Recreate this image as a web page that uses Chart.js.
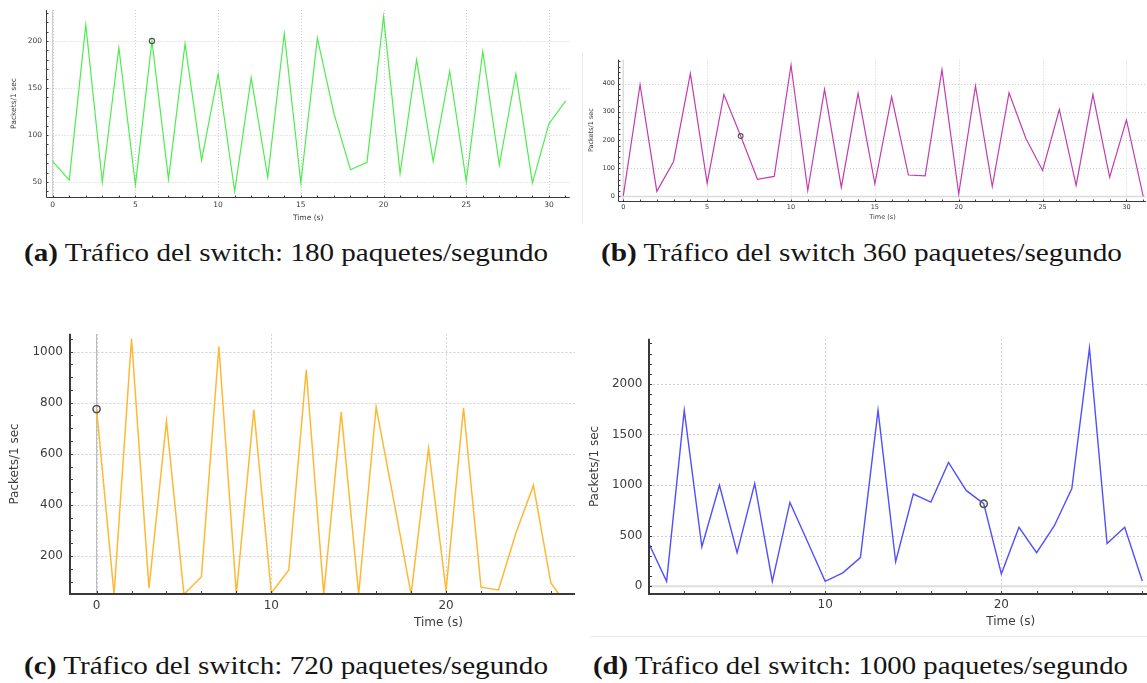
<!DOCTYPE html>
<html>
<head>
<meta charset="utf-8">
<script src="https://cdn.jsdelivr.net/npm/chart.js@4.4.1/dist/chart.umd.min.js"></script>
<style>
  html, body { margin: 0; padding: 0; background: #fff; width: 1147px; height: 683px; overflow: hidden; }
  .panel { position: absolute; overflow: hidden; }
  .panel canvas { position: absolute; }
  .rule { position: absolute; background: #e8e8e8; }
  .cap { position: absolute; font-family: "Liberation Serif", "Times New Roman", Times, serif; font-size: 25px;
         font-weight: normal; color: #151515; white-space: nowrap; line-height: 1.2; transform-origin: 0 50%; }
  .cap b { font-weight: bold; }
</style>
</head>
<body>
<div class="panel" id="boxA"><canvas id="chartA"></canvas></div>
<div class="panel" id="boxB"><canvas id="chartB"></canvas></div>
<div class="panel" id="boxC"><canvas id="chartC"></canvas></div>
<div class="panel" id="boxD"><canvas id="chartD"></canvas></div>
<div class="rule" style="left:582px;top:53px;width:1px;height:170px;"></div>
<div class="rule" style="left:590px;top:636px;width:557px;height:1px;"></div>

<div class="cap" id="capA"><b>(a)</b> Tráfico del switch: 180 paquetes/segundo</div>
<div class="cap" id="capB"><b>(b)</b> Tráfico del switch 360 paquetes/segundo</div>
<div class="cap" id="capC"><b>(c)</b> Tráfico del switch: 720 paquetes/segundo</div>
<div class="cap" id="capD"><b>(d)</b> Tráfico del switch: 1000 paquetes/segundo</div>

<script>
// ---- Packets per second captured at the switch, one sample per second ----
const secondsA = [0,1,2,3,4,5,6,7,8,9,10,11,12,13,14,15,16,17,18,19,20,21,22,23,24,25,26,27,28,29,30,31];
const packetsA = [72,52,217,50,193,47,200,53,197,73,165,40,161,55,208,49,203,123,63,71,226,59,180,72,168,51,189,68,165,49,112,136];

const secondsB = [0,1,2,3,4,5,6,7,8,9,10,11,12,13,14,15,16,17,18,19,20,21,22,23,24,25,26,27,28,29,30,31];
const packetsB = [2,396,18,124,435,47,361,214,61,71,465,21,379,32,365,45,353,76,73,449,9,391,35,367,206,92,308,39,361,68,271,0];

const secondsC = [0,1,2,3,4,5,6,7,8,9,10,11,12,13,14,15,16,17,18,19,20,21,22,23,24,25,26,27];
const packetsC = [775,50,1051,74,728,50,119,1020,50,773,55,145,929,50,763,50,783,420,50,622,64,780,78,67,290,476,94,0];

const secondsD = [0,1,2,3,4,5,6,7,8,9,10,11,12,13,14,15,16,17,18,19,20,21,22,23,24,25,26,27,28];
const packetsD = [419,48,1739,390,998,332,1014,48,828,440,48,132,283,1739,242,911,831,1224,947,815,122,583,332,596,966,2354,422,583,52];

// Selected sample (cursor) in each graph
const cursorA = 6, cursorB = 7, cursorC = 0, cursorD = 19;

// Axis tick labels
const ticksXA = [0,5,10,15,20,25,30];
const ticksYA = [50,100,150,200];
const ticksXB = [0,5,10,15,20,25,30];
const ticksYB = [0,100,200,300,400];
const ticksXC = [0,10,20,30,40];
const ticksYC = [200,400,600,800,1000];
const ticksXD = [10,20,30,40];
const ticksYD = [0,500,1000,1500,2000];

const xTitle = 'Time (s)';
const yTitle = 'Packets/1 sec';

// ---- Grid, zero lines, axis lines and inward tick marks ----
const framePlugin = {
  id: 'frame',
  beforeDatasetsDraw(chart, args, o) {
    const { ctx, chartArea: a, scales: { x, y } } = chart;
    ctx.save();
    ctx.beginPath();
    ctx.rect(a.left, a.top, a.right - a.left, a.bottom - a.top);
    ctx.clip();
    ctx.strokeStyle = o.gridColor;
    ctx.lineWidth = 1;
    ctx.setLineDash(o.gridDash);
    o.gridX.forEach(v => {
      const p = Math.round(x.getPixelForValue(v)) + 0.5;
      ctx.beginPath(); ctx.moveTo(p, a.top); ctx.lineTo(p, a.bottom); ctx.stroke();
    });
    o.gridY.forEach(v => {
      const p = Math.round(y.getPixelForValue(v)) + 0.5;
      ctx.beginPath(); ctx.moveTo(a.left, p); ctx.lineTo(a.right, p); ctx.stroke();
    });
    ctx.setLineDash([]);
    ctx.strokeStyle = o.zeroColor;
    ctx.lineWidth = o.zeroWidth;
    if (o.zeroX && x.min < 0) {
      const p = x.getPixelForValue(0);
      ctx.beginPath(); ctx.moveTo(p, a.top); ctx.lineTo(p, a.bottom); ctx.stroke();
    }
    if (o.zeroY && y.min < 0) {
      const p = y.getPixelForValue(0);
      ctx.beginPath(); ctx.moveTo(a.left, p); ctx.lineTo(a.right, p); ctx.stroke();
    }
    ctx.restore();
  },
  afterDraw(chart, args, o) {
    const { ctx, chartArea: a, scales: { x, y } } = chart;
    ctx.save();
    ctx.strokeStyle = o.axisColor;
    ctx.lineWidth = o.axisWidth;
    const off = o.axisWidth % 2 ? 0.5 : 0;
    const L = Math.round(a.left) - off, B = Math.round(a.bottom) + off;
    ctx.beginPath();
    ctx.moveTo(L, a.top); ctx.lineTo(L, B); ctx.lineTo(a.right, B);
    ctx.stroke();
    ctx.lineWidth = 1;
    for (let v = Math.ceil(x.min / o.minorX) * o.minorX; v <= x.max; v += o.minorX) {
      const p = Math.round(x.getPixelForValue(v)) + 0.5;
      if (p <= L + 1) continue;
      ctx.beginPath(); ctx.moveTo(p, B); ctx.lineTo(p, B - o.tickLen); ctx.stroke();
    }
    for (let v = Math.ceil(y.min / o.minorY) * o.minorY; v <= y.max; v += o.minorY) {
      const p = Math.round(y.getPixelForValue(v)) + 0.5;
      if (p >= B - 1) continue;
      ctx.beginPath(); ctx.moveTo(L, p); ctx.lineTo(L + o.tickLen, p); ctx.stroke();
    }
    ctx.restore();
  }
};

function place(el, l, t, w, h) {
  el.style.left = l + 'px'; el.style.top = t + 'px';
  if (w != null) { el.style.width = w + 'px'; el.style.height = h + 'px'; }
}

function buildChart(p) {
  const box = document.getElementById(p.box);
  place(box, p.clip.l, p.clip.t, p.clip.w, p.clip.h);
  const cv = document.getElementById(p.canvas);
  cv.width = p.cv.w; cv.height = p.cv.h;
  place(cv, p.cv.l - p.clip.l, p.cv.t - p.clip.t);

  const yWidth = p.plot.l - p.cv.l;
  const xHeight = p.cv.t + p.cv.h - p.plot.b;
  const padTop = p.plot.t - p.cv.t;
  const padRight = p.cv.l + p.cv.w - p.plot.r;
  const font = { family: 'DejaVu Sans', size: p.fontSize };
  const series = p.seconds.map((s, i) => ({ x: s, y: p.packets[i] }));
  const cursor = [{ x: p.seconds[p.cursor], y: p.packets[p.cursor] }];

  return new Chart(cv, {
    type: 'line',
    data: {
      datasets: [
        {
          data: cursor, showLine: false, order: 0,
          pointRadius: p.markR, pointBorderWidth: p.markW,
          pointBorderColor: '#555', pointBackgroundColor: 'rgba(0,0,0,0)'
        },
        {
          data: series, order: 1, borderColor: p.color, borderWidth: p.lineW,
          pointRadius: 0, tension: 0, fill: false
        }
      ]
    },
    options: {
      responsive: false, animation: false, devicePixelRatio: 1,
      layout: { padding: { top: padTop, right: padRight, left: 0, bottom: 0 } },
      plugins: {
        legend: { display: false }, tooltip: { enabled: false },
        frame: {
          gridX: p.ticksX, gridY: p.ticksY, gridColor: '#cfcfcf', gridDash: p.gridDash,
          zeroX: p.zeroX, zeroY: p.zeroY, zeroColor: p.zeroColor, zeroWidth: p.zeroWidth,
          axisColor: '#3a3a3a', axisWidth: p.axisW, tickLen: p.tickLen,
          minorX: p.minorX, minorY: p.minorY
        }
      },
      scales: {
        x: {
          type: 'linear', min: p.xMin, max: p.xMax,
          grid: { display: false, drawTicks: false }, border: { display: false },
          afterBuildTicks: s => { s.ticks = p.ticksX.map(v => ({ value: v })); },
          afterFit: s => { s.height = xHeight; },
          ticks: { autoSkip: false, maxRotation: 0, padding: p.xTickPad, color: '#3c3c3c', font,
                   callback: v => String(v) },
          title: { display: true, text: xTitle, color: '#3c3c3c', font,
                   padding: { top: 0, bottom: p.xTitlePad } }
        },
        y: {
          type: 'linear', min: p.yMin, max: p.yMax,
          grid: { display: false, drawTicks: false }, border: { display: false },
          afterBuildTicks: s => { s.ticks = p.ticksY.map(v => ({ value: v })); },
          afterFit: s => { s.width = yWidth; },
          ticks: { autoSkip: false, padding: p.yTickPad, color: '#3c3c3c', font,
                   callback: v => String(v) },
          title: { display: true, text: yTitle, color: '#3c3c3c', font,
                   padding: { top: p.yTitlePad, bottom: 0 } }
        }
      }
    },
    plugins: [framePlugin]
  });
}

buildChart({
  box: 'boxA', canvas: 'chartA',
  clip: { l: 0, t: 0, w: 577, h: 232 },
  cv: { l: 0, t: 0, w: 575, h: 228 },
  plot: { l: 46.5, t: 10, r: 570, b: 197 },
  seconds: secondsA, packets: packetsA, cursor: cursorA,
  ticksX: ticksXA, ticksY: ticksYA,
  xMin: -0.375, xMax: 31.26, yMin: 34, yMax: 233,
  color: '#4ded4d', lineW: 1.2, markR: 2.6, markW: 1.2,
  fontSize: 7.5, xTickPad: 3.5, yTickPad: 4.4, xTitlePad: 5.8, yTitlePad: 9.5,
  gridDash: [1, 2], zeroX: true, zeroY: false, zeroColor: '#c4c4c4', zeroWidth: 1,
  axisW: 1, tickLen: 2, minorX: 1, minorY: 10
});

buildChart({
  box: 'boxB', canvas: 'chartB',
  clip: { l: 575, t: 40, w: 572, h: 195 },
  cv: { l: 580, t: 50, w: 571, h: 178 },
  plot: { l: 619, t: 59.5, r: 1149, b: 200.7 },
  seconds: secondsB, packets: packetsB, cursor: cursorB,
  ticksX: ticksXB, ticksY: ticksYB,
  xMin: -0.255, xMax: 31.16, yMin: -15, yMax: 485,
  color: '#c23db0', lineW: 1.2, markR: 2.4, markW: 1.1,
  fontSize: 6.5, xTickPad: 2.7, yTickPad: 4, xTitlePad: 6.4, yTitlePad: 7.1,
  gridDash: [1, 2], zeroX: true, zeroY: true, zeroColor: '#dcdcdc', zeroWidth: 1.5,
  axisW: 1, tickLen: 2, minorX: 1, minorY: 20
});

buildChart({
  box: 'boxC', canvas: 'chartC',
  clip: { l: 0, t: 300, w: 575, h: 340 },
  cv: { l: 0, t: 320, w: 813, h: 312 },
  plot: { l: 69.5, t: 327.3, r: 810.7, b: 594.3 },
  seconds: secondsC, packets: packetsC, cursor: cursorC,
  ticksX: ticksXC, ticksY: ticksYC,
  xMin: -1.55, xMax: 40.68, yMin: 50, yMax: 1070,
  color: '#ffb834', lineW: 1.5, markR: 3.6, markW: 1.6,
  fontSize: 12, xTickPad: 4.2, yTickPad: 6.5, xTitlePad: 2.1, yTitlePad: 7.8,
  gridDash: [2, 2], zeroX: true, zeroY: false, zeroColor: '#bdbdbd', zeroWidth: 1.2,
  axisW: 2, tickLen: 3, minorX: 2, minorY: 50
});

buildChart({
  box: 'boxD', canvas: 'chartD',
  clip: { l: 580, t: 300, w: 567, h: 336 },
  cv: { l: 582, t: 325, w: 796, h: 307 },
  plot: { l: 649, t: 332.7, r: 1376, b: 594.3 },
  seconds: secondsD, packets: packetsD, cursor: cursorD,
  ticksX: ticksXD, ticksY: ticksYD,
  xMin: 0, xMax: 41.06, yMin: -80, yMax: 2447,
  color: '#5050ff', lineW: 1.4, markR: 3.6, markW: 1.6,
  fontSize: 12, xTickPad: 3.5, yTickPad: 6.5, xTitlePad: 2.5, yTitlePad: 5.8,
  gridDash: [2, 2], zeroX: false, zeroY: true, zeroColor: '#dedede', zeroWidth: 2,
  axisW: 2, tickLen: 3, minorX: 2, minorY: 100
});

// ---- Sub-figure captions, stretched to their column width ----
const captionBoxes = [
  { id: 'capA', l: 24, r: 548, cy: 253 },
  { id: 'capB', l: 601, r: 1122, cy: 253 },
  { id: 'capC', l: 24, r: 548, cy: 666 },
  { id: 'capD', l: 593, r: 1128, cy: 666 }
];
captionBoxes.forEach(c => {
  const el = document.getElementById(c.id);
  const r = el.getBoundingClientRect();
  el.style.left = c.l + 'px';
  el.style.top = (c.cy - r.height / 2) + 'px';
  el.style.transform = 'scaleX(' + ((c.r - c.l) / r.width).toFixed(4) + ')';
});
</script>
</body>
</html>
